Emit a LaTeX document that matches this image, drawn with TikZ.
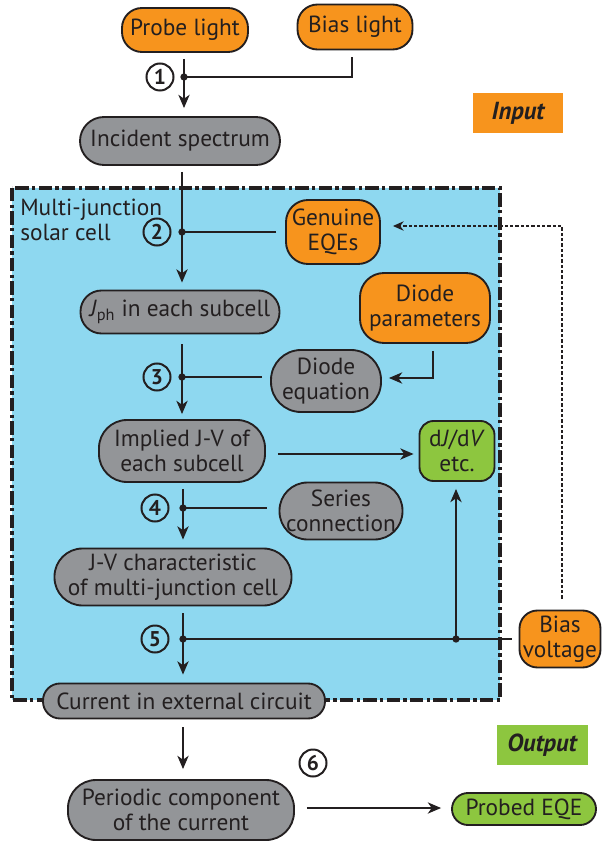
\documentclass[tikz,border=0pt]{standalone}
\usepackage{fontspec}
\setmainfont{PT Sans}
\usetikzlibrary{arrows.meta}
\definecolor{orng}{HTML}{F7941D}
\definecolor{gry}{HTML}{939598}
\definecolor{grn}{HTML}{8DC63F}
\definecolor{sky}{HTML}{8ED8F0}
\definecolor{ink}{HTML}{231F20}
\begin{document}
\begin{tikzpicture}[x=0.75pt,y=-0.75pt,
  every node/.style={font=\fontsize{17.5}{18.5}\selectfont, text=ink},
  blk/.style n args={4}{draw=ink, line width=1.4pt, fill=#1, minimum width={#2*0.75pt}, minimum height={#3*0.75pt}, rounded corners={#4*0.75pt}, inner sep=0pt, align=center},
  ln/.style={draw=ink, line width=1.1pt},
  arr/.style={ln, -{Stealth[length=10pt,width=8.5pt,inset=3pt]}},
  dotln/.style={draw=ink, line width=1.2pt, dash pattern=on 2.5pt off 1.5pt},
  jdot/.style={circle, fill=ink, inner sep=0pt, minimum size=5.5pt},
  num/.style={circle, draw=ink, line width=1.5pt, inner sep=0pt, minimum size={27*0.75pt}, font=\fontsize{16}{16}\selectfont\bfseries},
  tag/.style={minimum width={#1*0.75pt}, minimum height={40*0.75pt}, inner sep=0pt, font=\fontsize{18.5}{18.5}\selectfont\bfseries\itshape},
  border/.style={draw=ink, line width=2.4pt, dash pattern=on 10pt off 2.5pt on 2.5pt off 2.5pt}
]
\useasboundingbox (0,0) rectangle (602,841);
% cell region
\fill[sky] (12,188) rectangle (500,700);
\draw[border] (12,188) rectangle (500,700);
\node[anchor=north west, align=left, inner sep=0pt] (mjlabel) at (20,199) {Multi-junction\\solar cell};

% labels
\node[tag=90, fill=orng] (input) at (518,113) {Input};
\node[tag=91, fill=grn] (output) at (542,745) {Output};

% nodes
\node[blk={orng}{126}{44}{20}] (probe) at (185,30) {Probe light};
\node[blk={orng}{115}{45}{20}] (bias) at (355,27) {Bias light};
\node[blk={gry}{200}{48}{24}] (spec) at (180,141) {Incident spectrum};
\node[blk={orng}{94}{64}{22}] (geqe) at (333,232) {Genuine\\EQEs};
\node[blk={gry}{199}{43}{21}] (jph) at (180,312) {\textit{J}\textsubscript{ph} in each subcell};
\node[blk={orng}{130}{70}{24}] (dpar) at (425,308) {Diode\\parameters};
\node[blk={gry}{110}{62}{30}] (deq) at (326,381) {Diode\\equation};
\node[blk={gry}{166}{62}{28}] (impl) at (182,451) {Implied J-V of\\each subcell};
\node[blk={grn}{75}{60}{14}] (djdv) at (457,451) {d\textit{J}/d\textit{V}\\etc.};
\node[blk={gry}{123}{57}{28}] (ser) at (341,511) {Series\\connection};
\node[blk={gry}{237}{57}{28}] (jv) at (173,577) {J-V characteristic\\of multi-junction cell};
\node[blk={orng}{81}{57}{18}] (bv) at (560,639) {Bias\\voltage};
\node[blk={gry}{282}{35}{17}] (cur) at (184,701) {Current in external circuit};
\node[blk={gry}{226}{60}{28}] (per) at (181,810) {Periodic component\\of the current};
\node[blk={grn}{144}{32}{16}] (peqe) at (524,809) {Probed EQE};

% junctions
\coordinate (j1) at (184,77);
\coordinate (j2) at (182,232);
\coordinate (j3) at (182,377);
\coordinate (j4) at (183,508);
\coordinate (j5) at (183,639);
\coordinate (j5b) at (456,639);
\coordinate (fb) at (562,226);
\coordinate (j6) at (0,808);

% step 1
\draw[ln, shorten <=6*0.75pt] (j1 |- probe.south) -- (j1);
\draw[arr, shorten >=8*0.75pt] (j1) -- (j1 |- spec.north);
\draw[ln, shorten <=7*0.75pt] ([xshift=-3*0.75pt]bias.south) |- (j1);
\node[jdot] at (j1) {};
\node[num] (n1) at (160,77) {1};

% step 2
\draw[ln, shorten <=6*0.75pt] (j2 |- spec.south) -- (j2);
\draw[arr, shorten >=7*0.75pt] (j2) -- (j2 |- jph.north);
\draw[ln, shorten <=9*0.75pt] (geqe.west) -- (j2);
\node[jdot] at (j2) {};
\node[num] (n2) at (157,232) {2};

% step 3
\draw[ln, shorten <=10*0.75pt] (j3 |- jph.south) -- (j3);
\draw[arr, shorten >=5*0.75pt] (j3) -- (j3 |- impl.north);
\draw[ln, shorten <=8*0.75pt] (deq.west |- j3) -- (j3);
\node[jdot] at (j3) {};
\node[num] (n3) at (157,377) {3};
\draw[arr, shorten <=7*0.75pt, shorten >=7*0.75pt] ([xshift=8*0.75pt]dpar.south) |- ([yshift=3*0.75pt]deq.east);

% implied -> dJ/dV
\draw[arr, shorten <=12*0.75pt, shorten >=5*0.75pt] ([yshift=-3*0.75pt]impl.east) -- ([yshift=-3*0.75pt]djdv.west);

% step 4
\draw[ln, shorten <=6*0.75pt] (j4 |- impl.south) -- (j4);
\draw[arr, shorten >=8*0.75pt] (j4) -- (j4 |- jv.north);
\draw[ln, shorten <=12*0.75pt] (ser.west |- j4) -- (j4);
\node[jdot] at (j4) {};
\node[num] (n4) at (155,508) {4};

% step 5
\draw[ln, shorten <=7*0.75pt] (j5 |- jv.south) -- (j5);
\draw[arr, shorten >=8*0.75pt] (j5) -- (j5 |- cur.north);
\draw[ln, shorten <=7*0.75pt] (bv.west) -- (j5);
\draw[arr, shorten >=7*0.75pt] (j5b) -- (j5b |- djdv.south);
\node[jdot] at (j5) {};
\node[jdot] at (j5b) {};
\node[num] (n5) at (155,639) {5};

% feedback from bias voltage
\draw[dotln, -{Stealth[length=8pt,width=7pt,inset=2.5pt]}, shorten <=11*0.75pt, shorten >=12*0.75pt] (bv.north -| fb) -- (fb) -- (fb -| geqe.east);

% step 6
\draw[arr, shorten <=8*0.75pt, shorten >=10*0.75pt] (cur.south -| j5) -- (per.north -| j5);
\draw[arr, shorten <=12*0.75pt, shorten >=10*0.75pt] (per.east |- j6) -- (peqe.west |- j6);
\node[num] (n6) at (313,763) {6};
\end{tikzpicture}
\end{document}
